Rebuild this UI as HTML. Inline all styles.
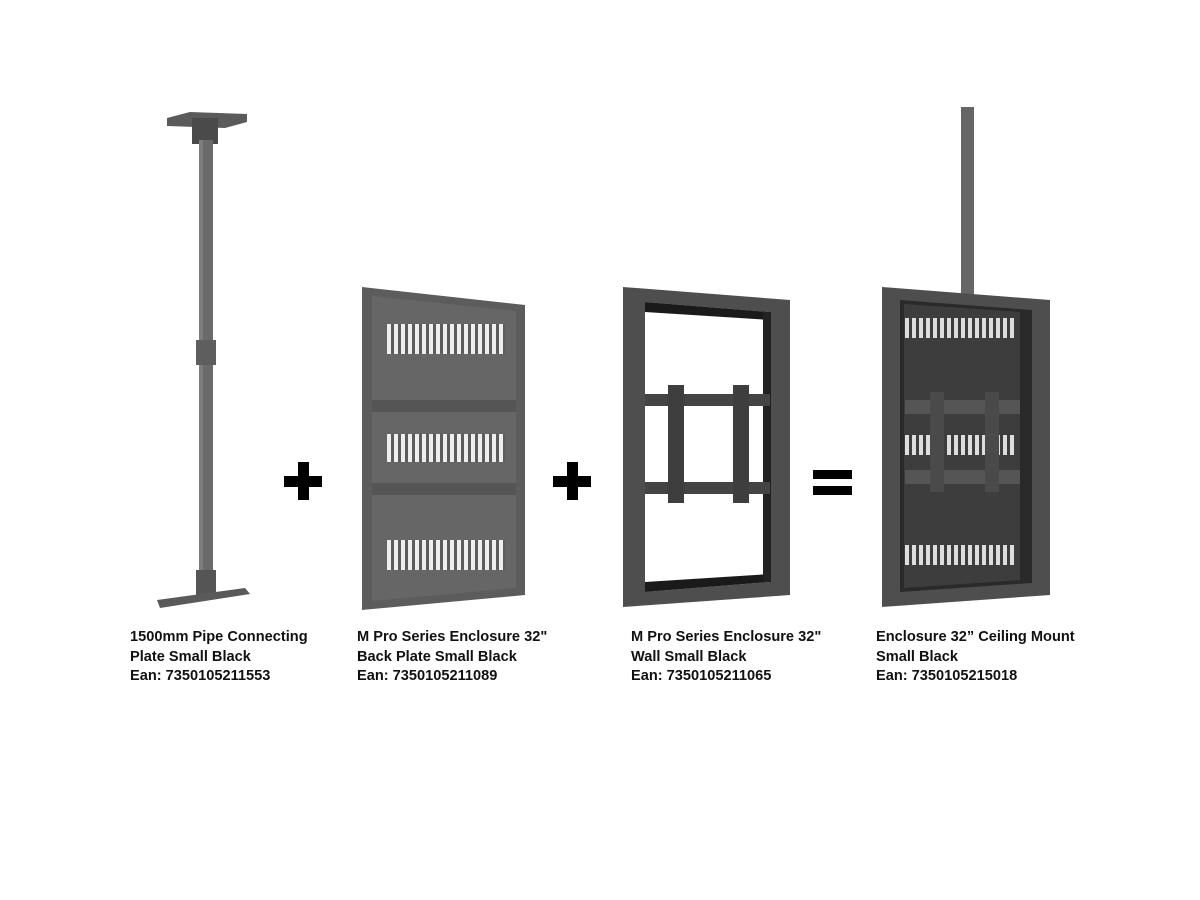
<!DOCTYPE html>
<html><head><style>
body{margin:0;background:#fff;width:1200px;height:900px;overflow:hidden;font-family:"Liberation Sans",sans-serif}
.t{position:absolute;font-weight:bold;font-size:14.6px;line-height:19.5px;color:#111}
</style></head><body>
<svg width="1200" height="900" style="position:absolute;left:0;top:0">
<defs>
<pattern id="sl" width="7" height="10" patternUnits="userSpaceOnUse"><rect width="7" height="10" fill="#5c5c5c"/><rect x="2" width="4" height="10" fill="#eee"/></pattern>
<pattern id="sl2" width="7" height="10" patternUnits="userSpaceOnUse"><rect width="7" height="10" fill="#3d3d3d"/><rect x="2" width="4" height="10" fill="#ddd"/></pattern>
</defs>
<polygon points="167,118 190,112 247,114 247,122 225,128 167,126" fill="#5b5b5b"/>
<rect x="192" y="118" width="26" height="26" fill="#4a4a4a"/>
<rect x="199" y="140" width="14" height="455" fill="#6a6a6a"/>
<rect x="199" y="140" width="4" height="455" fill="#7d7d7d"/>
<rect x="196" y="340" width="20" height="25" fill="#5e5e5e"/>
<rect x="196" y="570" width="20" height="25" fill="#555"/>
<polygon points="157,600 245,588 250,594 160,608" fill="#5a5a5a"/>
<rect x="284" y="476" width="38" height="11" fill="#000"/>
<rect x="298" y="462" width="11" height="38" fill="#000"/>
<rect x="553" y="476" width="38" height="11" fill="#000"/>
<rect x="567" y="462" width="11" height="38" fill="#000"/>
<rect x="813" y="470" width="39" height="9" fill="#000"/>
<rect x="813" y="486" width="39" height="9" fill="#000"/>
<polygon points="362,287 525,305 525,595 362,610" fill="#5c5c5c"/>
<polygon points="372,296 516,311 516,588 372,601" fill="#666"/>
<rect x="387" y="324" width="118" height="30" fill="url(#sl)"/>
<rect x="387" y="434" width="118" height="28" fill="url(#sl)"/>
<rect x="387" y="540" width="118" height="30" fill="url(#sl)"/>
<rect x="372" y="400" width="144" height="12" fill="#555"/>
<rect x="372" y="483" width="144" height="12" fill="#555"/>
<polygon points="623,287 790,300 790,595 623,607" fill="#4e4e4e"/>
<polygon points="645,302 770,312 770,582 645,592" fill="#fff"/>
<polygon points="645,302 770,312 770,320 645,312" fill="#1a1a1a"/>
<polygon points="645,582 770,574 770,582 645,592" fill="#1a1a1a"/>
<rect x="763" y="312" width="8" height="270" fill="#222"/>
<rect x="645" y="394" width="125" height="12" fill="#444"/>
<rect x="645" y="482" width="125" height="12" fill="#444"/>
<rect x="668" y="385" width="16" height="118" fill="#3e3e3e"/>
<rect x="733" y="385" width="16" height="118" fill="#3e3e3e"/>
<rect x="961" y="107" width="13" height="190" fill="#666"/>
<polygon points="882,287 1050,300 1050,595 882,607" fill="#4e4e4e"/>
<polygon points="900,300 1032,310 1032,583 900,592" fill="#2a2a2a"/>
<polygon points="904,304 1020,312 1020,580 904,588" fill="#3d3d3d"/>
<rect x="905" y="318" width="110" height="20" fill="url(#sl2)"/>
<rect x="905" y="435" width="110" height="20" fill="url(#sl2)"/>
<rect x="905" y="545" width="110" height="20" fill="url(#sl2)"/>
<rect x="905" y="400" width="115" height="14" fill="#555"/>
<rect x="905" y="470" width="115" height="14" fill="#555"/>
<rect x="930" y="392" width="14" height="100" fill="#4a4a4a"/>
<rect x="985" y="392" width="14" height="100" fill="#4a4a4a"/>
</svg>
<div class="t" style="left:130px;top:628px">1500mm Pipe Connecting<br>Plate Small Black<br>Ean: 7350105211553</div>
<div class="t" style="left:357px;top:628px">M Pro Series Enclosure 32"<br>Back Plate Small Black<br>Ean: 7350105211089</div>
<div class="t" style="left:631px;top:628px">M Pro Series Enclosure 32"<br>Wall Small Black<br>Ean: 7350105211065</div>
<div class="t" style="left:876px;top:628px">Enclosure 32” Ceiling Mount<br>Small Black<br>Ean: 7350105215018</div>
</body></html>
